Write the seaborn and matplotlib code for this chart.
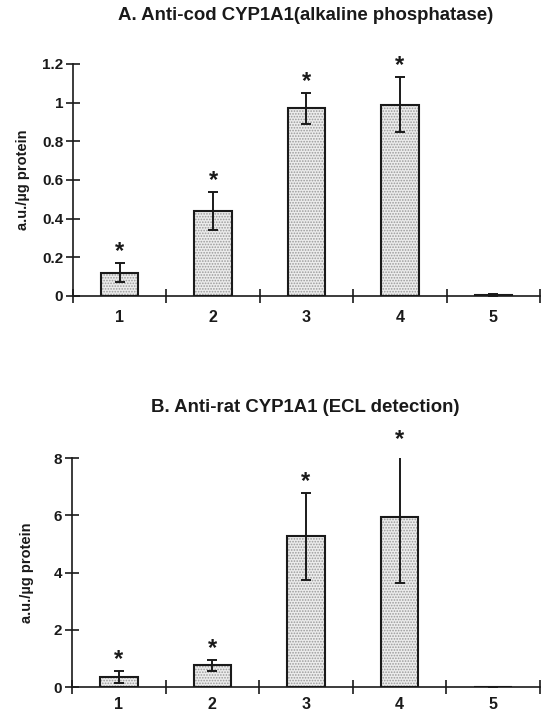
import matplotlib
matplotlib.use("Agg")
import matplotlib.pyplot as plt
from matplotlib.patches import Rectangle
import seaborn as sns
import numpy as np
import pandas as pd

groups = ["1", "2", "3", "4", "5"]
cod_vals = [0.12, 0.44, 0.97, 0.99, 0.005]
cod_err = [0.05, 0.10, 0.08, 0.14, 0.007]
cod_sig = [True, True, True, True, False]
rat_vals = [0.35, 0.76, 5.27, 5.94, 0.0]
rat_err = [0.20, 0.20, 1.52, 2.30, 0.0]
rat_sig = [True, True, True, True, False]

titleA = "A. Anti-cod CYP1A1(alkaline phosphatase)"
titleB = "B. Anti-rat CYP1A1 (ECL detection)"
ylab = "a.u./\u00b5g protein"
yticksA = [0, 0.2, 0.4, 0.6, 0.8, 1, 1.2]
yticklabA = ["0", "0.2", "0.4", "0.6", "0.8", "1", "1.2"]
yticksB = [0, 2, 4, 6, 8]
yticklabB = ["0", "2", "4", "6", "8"]

sns.set_theme(style="white")
plt.rcParams['font.family'] = ['Liberation Sans', 'DejaVu Sans']
plt.rcParams['hatch.linewidth'] = 0.8

fig = plt.figure(figsize=(5.41, 7.17), dpi=100)
axA = fig.add_axes([0.1349, 0.5872, 0.8632, 0.3236])
axB = fig.add_axes([0.1331, 0.0418, 0.8650, 0.3194])

INK = "#1a1a1a"

def draw(ax, vals, errs, sig, yticks, ylabs, ymax, xpad, ylabx):
    df = pd.DataFrame({"g": groups, "v": vals})
    sns.barplot(data=df, x="g", y="v", ax=ax, color="#ececec", width=0.4,
                edgecolor="#9a9a9a", linewidth=0, hatch="......",
                errorbar=None, saturation=1)
    for p in list(ax.patches):
        ax.add_patch(Rectangle(p.get_xy(), p.get_width(), p.get_height(),
                               fill=False, edgecolor=INK, linewidth=1.5, zorder=3))
    xs = np.arange(len(groups))
    ax.errorbar(xs, vals, yerr=errs, fmt="none", ecolor=INK,
                elinewidth=1.4, capsize=3.5, capthick=1.4, zorder=4)
    for x, v, e, s in zip(xs, vals, errs, sig):
        if s:
            ax.annotate("*", (x, v + e), xytext=(0, 0), textcoords="offset points",
                        ha="center", va="bottom", fontsize=17, fontweight="bold",
                        color=INK, annotation_clip=False)
    ax.set_xlim(-0.5, len(groups) - 0.5)
    ax.set_ylim(0, ymax)
    ax.set_xticks(np.arange(len(groups) + 1) - 0.5)
    ax.set_xticklabels([])
    ax.set_xticks(xs, minor=True)
    ax.set_xticklabels(groups, minor=True, fontsize=11.5, fontweight="bold", color=INK)
    ax.tick_params(axis="x", which="minor", length=0, pad=xpad)
    ax.tick_params(axis="x", which="major", direction="inout", length=10,
                   width=1.2, color=INK, bottom=True)
    ax.set_yticks(yticks)
    ax.set_yticklabels(ylabs, fontsize=11, fontweight="bold", color=INK)
    ax.tick_params(axis="y", direction="inout", length=10, width=1.2,
                   color=INK, left=True, pad=2)
    for sp in ["top", "right"]:
        ax.spines[sp].set_visible(False)
    for sp in ["left", "bottom"]:
        ax.spines[sp].set_color(INK)
        ax.spines[sp].set_linewidth(1.2)
        ax.spines[sp].set_zorder(5)
    ax.set_xlabel("")
    ax.set_ylabel(ylab, fontsize=10.5, fontweight="bold", color=INK)
    ax.yaxis.set_label_coords(ylabx, 0.5)

draw(axA, cod_vals, cod_err, cod_sig, yticksA, yticklabA, 1.2, 10, -0.092)
draw(axB, rat_vals, rat_err, rat_sig, yticksB, yticklabB, 8.0, 7, -0.081)

fig.text(0.5645, 0.979, titleA, ha="center", va="center", fontsize=13.4, fontweight="bold", color=INK)
fig.text(0.5645, 0.432, titleB, ha="center", va="center", fontsize=13.4, fontweight="bold", color=INK)

fig.savefig("out.png", dpi=100)
